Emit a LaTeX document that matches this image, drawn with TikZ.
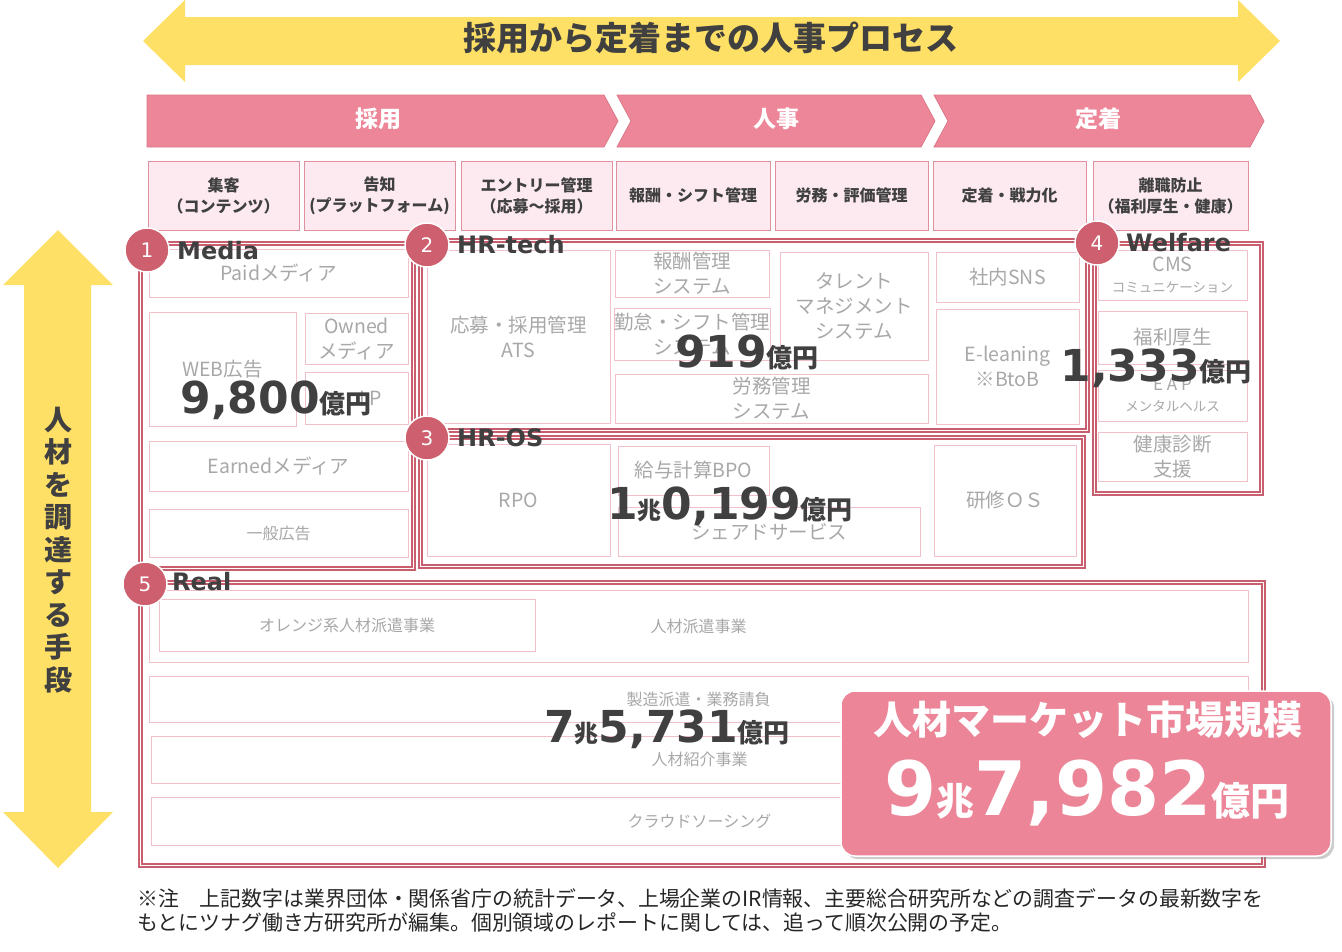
\documentclass[tikz,border=0pt]{standalone}
\usepackage{fontspec}
\setmainfont{Noto Sans CJK JP}
\newfontfamily\numfont{DejaVu Sans}
\usetikzlibrary{shadows,positioning}

\definecolor{arrowyellow}{HTML}{FFE066}
\definecolor{chevpink}{HTML}{EC8698}
\definecolor{chevline}{HTML}{DB7888}
\definecolor{catfill}{HTML}{FDEAF0}
\definecolor{catline}{HTML}{E0909E}
\definecolor{secline}{HTML}{C95E6E}
\definecolor{cellline}{HTML}{F2C0C8}
\definecolor{celltext}{HTML}{A8A8A8}
\definecolor{darktext}{HTML}{404040}
\definecolor{dotred}{HTML}{CD5F6E}
\definecolor{bigpink}{HTML}{EC8597}

\newcommand{\setfs}[2]{\fontsize{#1}{#2}\selectfont}
\newcommand{\okuen}[1]{{\rmfamily\bfseries\setfs{#1}{#1}億円}}
\newcommand{\chou}[1]{{\rmfamily\bfseries\setfs{#1}{#1}兆}}

\tikzset{
  cellsize/.style 2 args={minimum width=#1, minimum height=#2},
  cat/.style={draw=catline, fill=catfill, inner sep=0pt, align=center, text=darktext, font=\bfseries\setfs{16}{21}},
  cell/.style={draw=cellline, fill=white, inner sep=0pt, align=center, text=celltext, font=\setfs{19.5}{25}},
  realcell/.style={cell, font=\setfs{16}{20}},
  secbox/.style={draw=secline, double=white, double distance=0.8pt, line width=2.1pt, inner sep=0pt},
  num/.style={circle, fill=dotred, draw=white, line width=1.5pt, minimum size=44pt, inner sep=0pt, text=white, font=\numfont\setfs{20}{20}},
  sectitle/.style={anchor=west, inner sep=0pt, text=darktext, font=\numfont\bfseries\setfs{24}{24}},
  bignum/.style={anchor=base, inner sep=0pt, text=darktext, font=\numfont\bfseries\setfs{44}{44}},
  chevron/.style={fill=chevpink, draw=chevline, line width=0.8pt},
  chevtext/.style={text=white, font=\bfseries\setfs{23}{23}},
  note/.style={anchor=base west, inner sep=0pt, text=black!85, font=\setfs{20.9}{24}},
}

\begin{document}
\begin{tikzpicture}[x=1pt, y=-1pt]
  \useasboundingbox (0,0) rectangle (1342,951);

  % process arrow
  \fill[arrowyellow] (143,41) -- (185,0) -- (185,17) -- (1238,17) -- (1238,0) -- (1280,41)
    -- (1238,82) -- (1238,65) -- (185,65) -- (185,82) -- cycle;
  \node[text=darktext, font=\bfseries\setfs{33}{33}] (process) at (711,38) {採用から定着までの人事プロセス};

  % means arrow
  \fill[arrowyellow] (58,230) -- (113,285) -- (91,285) -- (91,812) -- (113,812) -- (58,868)
    -- (3,812) -- (24,812) -- (24,285) -- (3,285) -- cycle;
  \node[align=center, text=darktext, font=\bfseries\setfs{28}{32.5}] (means) at (58,550)
    {人\\材\\を\\調\\達\\す\\る\\手\\段};

  % phases
  \draw[chevron] (147,95) -- (604,95) -- (618,121) -- (604,147) -- (147,147) -- cycle;
  \draw[chevron] (617,95) -- (921,95) -- (935,121) -- (921,147) -- (617,147) -- (631,121) -- cycle;
  \draw[chevron] (934,95) -- (1250,95) -- (1264,121) -- (1250,147) -- (934,147) -- (948,121) -- cycle;
  \node[chevtext] (saiyo) at (378,119) {採用};
  \node[chevtext] (jinji) at (776,119) {人事};
  \node[chevtext] (teichaku) at (1098,119) {定着};

  % tasks
  \node[cat, cellsize={151pt}{69pt}] (cat1) at (223.5,195.5) {集客\\（コンテンツ）};
  \node[cat, cellsize={151pt}{69pt}] (cat2) at (379.5,195.5) {告知\\(プラットフォーム)};
  \node[cat, cellsize={151pt}{69pt}] (cat3) at (536.5,195.5) {エントリー管理\\（応募～採用）};
  \node[cat, cellsize={154pt}{69pt}] (cat4) at (693,195.5) {報酬・シフト管理};
  \node[cat, cellsize={153pt}{69pt}] (cat5) at (851.5,195.5) {労務・評価管理};
  \node[cat, cellsize={153pt}{69pt}] (cat6) at (1009.5,195.5) {定着・戦力化};
  \node[cat, cellsize={155pt}{69pt}] (cat7) at (1170.5,195.5) {離職防止\\（福利厚生・健康）};

  % sections
  \node[secbox, cellsize={273pt}{325pt}] (media) at (276.5,405.5) {};
  \node[secbox, cellsize={667pt}{190pt}] (hrtech) at (753.5,335) {};
  \node[secbox, cellsize={663pt}{129pt}] (hros) at (751.5,501.5) {};
  \node[secbox, cellsize={167pt}{250pt}] (welfare) at (1177.5,368) {};
  \node[secbox, cellsize={1123pt}{283pt}] (real) at (701.5,723.5) {};

  % Media
  \node[cell, cellsize={259pt}{48pt}] (paid) at (278.5,273) {Paidメディア};
  \node[cell, cellsize={147pt}{114pt}] (web) at (222.5,369) {WEB広告};
  \node[cell, cellsize={103pt}{51pt}] (owned) at (356.5,338.5) {Owned\\メディア};
  \node[cell, cellsize={103pt}{52pt}] (lp) at (356.5,398) {\hspace{28pt}LP};
  \node[cell, cellsize={259pt}{50pt}] (earned) at (278.5,466) {Earnedメディア};
  \node[cell, cellsize={259pt}{48pt}] (ippan) at (278.5,533) {\setfs{16}{20}一般広告};

  % HR-tech
  \node[cell, cellsize={183pt}{173pt}] (ats) at (518.5,336.5) {応募・採用管理\\ATS};
  \node[cell, cellsize={154pt}{47pt}] (housyu) at (692,273.5) {報酬管理\\システム};
  \node[cell, cellsize={154pt}{52pt}] (kintai) at (692,334) {勤怠・シフト管理\\システム};
  \node[cell, cellsize={148pt}{108pt}] (talent) at (854,306) {タレント\\マネジメント\\システム};
  \node[cell, cellsize={313pt}{49pt}] (roumu) at (771.5,398.5) {労務管理\\システム};
  \node[cell, cellsize={143pt}{50pt}] (sns) at (1007.5,277) {社内SNS};
  \node[cell, cellsize={143pt}{115pt}] (elearn) at (1007.5,366.5) {E-leaning\\※BtoB};

  % Welfare
  \node[cell, cellsize={149pt}{50pt}] (cms) at (1172.5,275) {CMS\\[-4pt]{\setfs{13.5}{16}コミュニケーション}};
  \node[cell, cellsize={149pt}{53pt}] (fukuri) at (1172.5,337.5) {福利厚生};
  \node[cell, cellsize={149pt}{51pt}] (eap) at (1172.5,395.5) {{\setfs{17}{20}E A P}\\[-4pt]{\setfs{13.5}{16}メンタルヘルス}};
  \node[cell, cellsize={149pt}{49pt}] (kenko) at (1172.5,456.5) {健康診断\\支援};

  % HR-OS
  \node[cell, cellsize={183pt}{112pt}] (rpo) at (518.5,500) {RPO};
  \node[cell, cellsize={151pt}{49pt}] (kyuyo) at (693.5,470.5) {給与計算BPO};
  \node[cell, cellsize={302pt}{49pt}] (shared) at (769,531.5) {シェアドサービス};
  \node[cell, cellsize={142pt}{111pt}] (kensyu) at (1005,500.5) {研修ＯＳ};

  % Real
  \node[realcell, cellsize={1099pt}{72pt}] (haken) at (698.5,626) {人材派遣事業};
  \node[realcell, cellsize={376pt}{52pt}] (orange) at (347,625) {オレンジ系人材派遣事業};
  \node[realcell, cellsize={1099pt}{46pt}] (seizo) at (698.5,699) {製造派遣・業務請負};
  \node[realcell, cellsize={1097pt}{47pt}] (syokai) at (699.5,759.5) {人材紹介事業};
  \node[realcell, cellsize={1097pt}{48pt}] (crowd) at (699.5,821) {クラウドソーシング};

  % section markers
  \node[num] (n1) at (147,250) {1};
  \node[num] (n2) at (427,245) {2};
  \node[num] (n3) at (427,438) {3};
  \node[num] (n4) at (1097,243) {4};
  \node[num] (n5) at (145,584) {5};
  \node[sectitle] (tmedia) at (177,251) {Media};
  \node[sectitle] (thrtech) at (457,245) {HR-tech};
  \node[sectitle] (thros) at (457,438) {HR-OS};
  \node[sectitle] (twelfare) at (1126,243) {Welfare};
  \node[sectitle] (treal) at (172,582) {Real};

  % market sizes
  \node[bignum] (vmedia) at (276,413) {9,800\okuen{26}};
  \node[bignum] (vhrtech) at (747,367) {919\okuen{26}};
  \node[bignum] (vwelfare) at (1156,381) {1,333\okuen{26}};
  \node[bignum] (vhros) at (730,519) {1\chou{24}0,199\okuen{26}};
  \node[bignum] (vreal) at (667,742) {7\chou{24}5,731\okuen{26}};

  % total
  \node[rounded corners=14pt, fill=bigpink, draw=white, line width=1.5pt, cellsize={490pt}{165pt},
    drop shadow={opacity=0.4, shadow xshift=3pt, shadow yshift=-3pt}] (market) at (1086,773.5) {};
  \node[text=white, font=\bfseries\setfs{39}{39}] (mkttitle) at (1088,720) {人材マーケット市場規模};
  \node[bignum, text=white, font=\numfont\bfseries\setfs{75}{75}] (mktnum) at (1087,815)
    {9\chou{38}7,982\okuen{39}};

  % footnote
  \node[note] (note1) at (137,906) {※注　上記数字は業界団体・関係省庁の統計データ、上場企業のIR情報、主要総合研究所などの調査データの最新数字を};
  \node[note] (note2) at ([yshift=-24pt]note1.base west) {もとにツナグ働き方研究所が編集。個別領域のレポートに関しては、追って順次公開の予定。};
\end{tikzpicture}
\end{document}
